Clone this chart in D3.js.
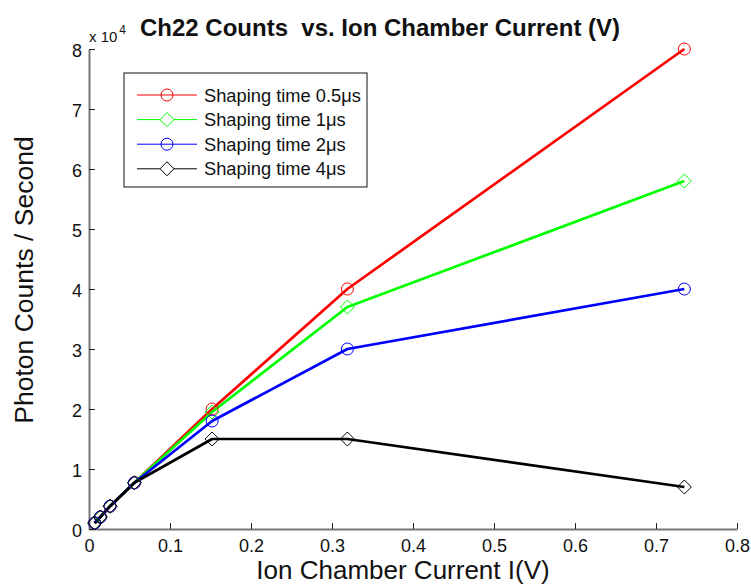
<!DOCTYPE html>
<html>
<head>
<meta charset="utf-8">
<title>Ch22 Counts vs. Ion Chamber Current</title>
<style>
  * { margin: 0; padding: 0 }
  html, body { width: 100%; height: 100%; background: #fff; }
  svg { display: block; font-family: "Liberation Sans", Arial, sans-serif; }
</style>
</head>
<body>
<svg id="chart" width="751" height="586"></svg>
<script src="https://cdn.jsdelivr.net/npm/d3@7"></script>
<script>
// data (counts per second)
const current = [0.007, 0.014, 0.026, 0.056, 0.152, 0.319, 0.735];
const shaping05 = [1000, 2000, 3800, 7700, 20000, 40000, 80000];
const shaping1 = [1000, 2000, 3800, 7700, 19500, 37000, 58000];
const shaping2 = [1000, 2000, 3800, 7700, 18000, 30000, 40000];
const shaping4 = [1000, 2000, 3800, 7700, 15000, 15000, 7000];
const seriesNames = ["Shaping time 0.5\u03bcs", "Shaping time 1\u03bcs", "Shaping time 2\u03bcs", "Shaping time 4\u03bcs"];
const xTicks = [0, 0.1, 0.2, 0.3, 0.4, 0.5, 0.6, 0.7, 0.8];
const yTicks = [0, 1, 2, 3, 4, 5, 6, 7, 8];

const series = [
  { name: seriesNames[0], values: shaping05, color: "#ff0000", marker: "circle" },
  { name: seriesNames[1], values: shaping1, color: "#00ff00", marker: "diamond" },
  { name: seriesNames[2], values: shaping2, color: "#0000ff", marker: "circle" },
  { name: seriesNames[3], values: shaping4, color: "#000000", marker: "diamond" }
];

const svg = d3.select("#chart");
const margin = { left: 89, right: 14, top: 49, bottom: 57 };
const W = 751, H = 586;
const x = d3.scaleLinear().domain([0, 0.8]).range([margin.left, W - margin.right]);
const y = d3.scaleLinear().domain([0, 8]).range([H - margin.bottom, margin.top]);
const axisColor = "#777";

// axes (left + bottom only, ticks pointing inwards)
const gx = svg.append("g").attr("transform", `translate(0,${y(0)})`)
  .call(d3.axisBottom(x).tickValues(xTicks).tickSizeInner(-6).tickSizeOuter(0).tickPadding(10)
    .tickFormat(d => d === 0 ? "0" : d3.format(".1f")(d)));
const gy = svg.append("g").attr("transform", `translate(${x(0)},0)`)
  .call(d3.axisLeft(y).tickValues(yTicks).tickSizeInner(-6).tickSizeOuter(0).tickPadding(7)
    .tickFormat(d3.format("d")));
[gx, gy].forEach(g => {
  g.select(".domain").attr("stroke", axisColor).attr("stroke-width", 2);
  g.selectAll(".tick line").attr("stroke", "#222").attr("stroke-width", 1);
  g.selectAll(".tick text").attr("fill", "#111").style("font-size", "18px")
    .style("font-family", "'Liberation Sans', Arial, sans-serif");
});
gy.selectAll(".tick text").attr("dy", "0.4em");

// lines
const line = d3.line().x(d => x(d[0])).y(d => y(d[1] / 1e4));
const plot = svg.append("g");
const diamond = s => `M0,${-s}L${s},0L0,${s}L${-s},0Z`;

series.forEach(s => {
  const pts = current.map((c, i) => [c, s.values[i]]);
  plot.append("path").datum(pts).attr("d", line)
    .attr("fill", "none").attr("stroke", s.color).attr("stroke-width", 2.7)
    .attr("stroke-linejoin", "round");
});
series.forEach(s => {
  const pts = current.map((c, i) => [c, s.values[i]]);
  const m = plot.append("g").selectAll("g").data(pts).join("g")
    .attr("transform", d => `translate(${x(d[0])},${y(d[1] / 1e4)})`);
  if (s.marker === "circle") {
    m.append("circle").attr("r", 6).attr("fill", "none").attr("stroke", s.color).attr("stroke-width", 1);
  } else {
    m.append("path").attr("d", diamond(7)).attr("fill", "none").attr("stroke", s.color).attr("stroke-width", 1);
  }
});

// exponent + title
svg.append("text").attr("x", 89).attr("y", 42).style("font-size", "15px").attr("fill", "#111")
  .text("x 10").append("tspan").attr("dy", -8).attr("dx", 2).style("font-size", "12px").text("4");
svg.append("text").attr("x", 380).attr("y", 36).attr("text-anchor", "middle")
  .style("font-size", "24px").style("font-weight", "bold").attr("fill", "#111")
  .attr("xml:space", "preserve").text("Ch22 Counts  vs. Ion Chamber Current (V)");

// axis labels
svg.append("text").attr("x", 403).attr("y", 579).attr("text-anchor", "middle")
  .style("font-size", "26px").attr("fill", "#111").text("Ion Chamber Current I(V)");
svg.append("text").attr("transform", `translate(33,280) rotate(-90)`)
  .attr("text-anchor", "middle").style("font-size", "26.5px").attr("fill", "#111")
  .text("Photon Counts / Second");

// legend
const lg = svg.append("g").attr("transform", "translate(124,73)");
lg.append("rect").attr("width", 243).attr("height", 114).attr("fill", "#fff")
  .attr("stroke", "#111").attr("stroke-width", 1);
series.forEach((s, i) => {
  const row = lg.append("g").attr("transform", `translate(0,${22 + i * 24.6})`);
  row.append("line").attr("x1", 13).attr("x2", 73).attr("stroke", s.color).attr("stroke-width", 1);
  if (s.marker === "circle") {
    row.append("circle").attr("cx", 43).attr("r", 6).attr("fill", "none").attr("stroke", s.color);
  } else {
    row.append("path").attr("transform", "translate(43,0)").attr("d", diamond(7))
      .attr("fill", "#fff").attr("stroke", s.color);
  }
  row.append("text").attr("x", 80).attr("dy", "0.36em").style("font-size", "18.3px")
    .attr("fill", "#111").text(s.name);
});
</script>
</body>
</html>
